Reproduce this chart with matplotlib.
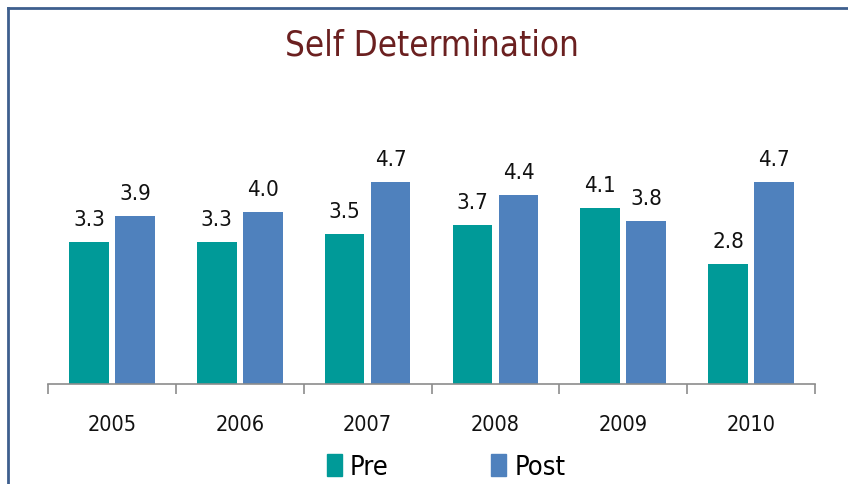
import matplotlib.pyplot as plt
from matplotlib.lines import Line2D
from matplotlib.patches import Patch
from matplotlib import font_manager
import numpy as np

years = ["2005", "2006", "2007", "2008", "2009", "2010"]
pre = [3.3, 3.3, 3.5, 3.7, 4.1, 2.8]
post = [3.9, 4.0, 4.7, 4.4, 3.8, 4.7]

TEAL = "#009a98"
BLUE = "#4f81bd"


# narrow font, close to the Arial Narrow of the original
def fp(size):
    return font_manager.FontProperties(family="DejaVu Sans", stretch="condensed", size=size)


fig = plt.figure(figsize=(8.48, 4.85), dpi=100)
ax = fig.add_axes([48 / 848, 1 - 385 / 485, (815 - 48) / 848, 5.5 * 43 / 485])

x = np.arange(len(years))
w = 0.31
off = 0.18
b1 = ax.bar(x - off, pre, w, color=TEAL)
b2 = ax.bar(x + off, post, w, color=BLUE)

for bars, vals in [(b1, pre), (b2, post)]:
    for b, v in zip(bars, vals):
        ax.text(b.get_x() + b.get_width() / 2, v + 0.3, f"{v:.1f}",
                ha="center", va="bottom", fontproperties=fp(16), color="#111111")

ax.set_xlim(-0.5, len(years) - 0.5)
ax.set_ylim(0, 5.5)
ax.set_yticks([])
for s in ["top", "right", "left"]:
    ax.spines[s].set_visible(False)
ax.spines["bottom"].set_color("#8c8c8c")
ax.spines["bottom"].set_linewidth(1.2)

ax.set_xticks(np.arange(len(years) + 1) - 0.5)
ax.set_xticklabels([])
ax.tick_params(axis="x", length=7, color="#8c8c8c", width=1.2)
for i, yr in enumerate(years):
    ax.text(i, -0.93, yr, ha="center", va="center", fontproperties=fp(15.5), color="#111111")

fig.text(432 / 848, 1 - 45 / 485, "Self Determination", ha="center", va="center",
         fontproperties=fp(25), color="#6b2020")

handles = [Patch(color=TEAL, label="Pre"), Patch(color=BLUE, label="Post")]
leg = fig.legend(handles=handles, loc="center", bbox_to_anchor=(0.526, 1 - 468 / 485),
                 ncol=2, frameon=False, prop=fp(19.5),
                 handlelength=0.55, handleheight=0.9, handletextpad=0.3, columnspacing=3.8)

# blue frame on the left and top edges
fig.add_artist(Line2D([8 / 848, 8 / 848], [0, 1 - 9 / 485], transform=fig.transFigure,
                      color="#3e5f8e", lw=2))
fig.add_artist(Line2D([8 / 848, 1], [1 - 9 / 485, 1 - 9 / 485], transform=fig.transFigure,
                      color="#3e5f8e", lw=2))

fig.savefig("out.png", dpi=100)
